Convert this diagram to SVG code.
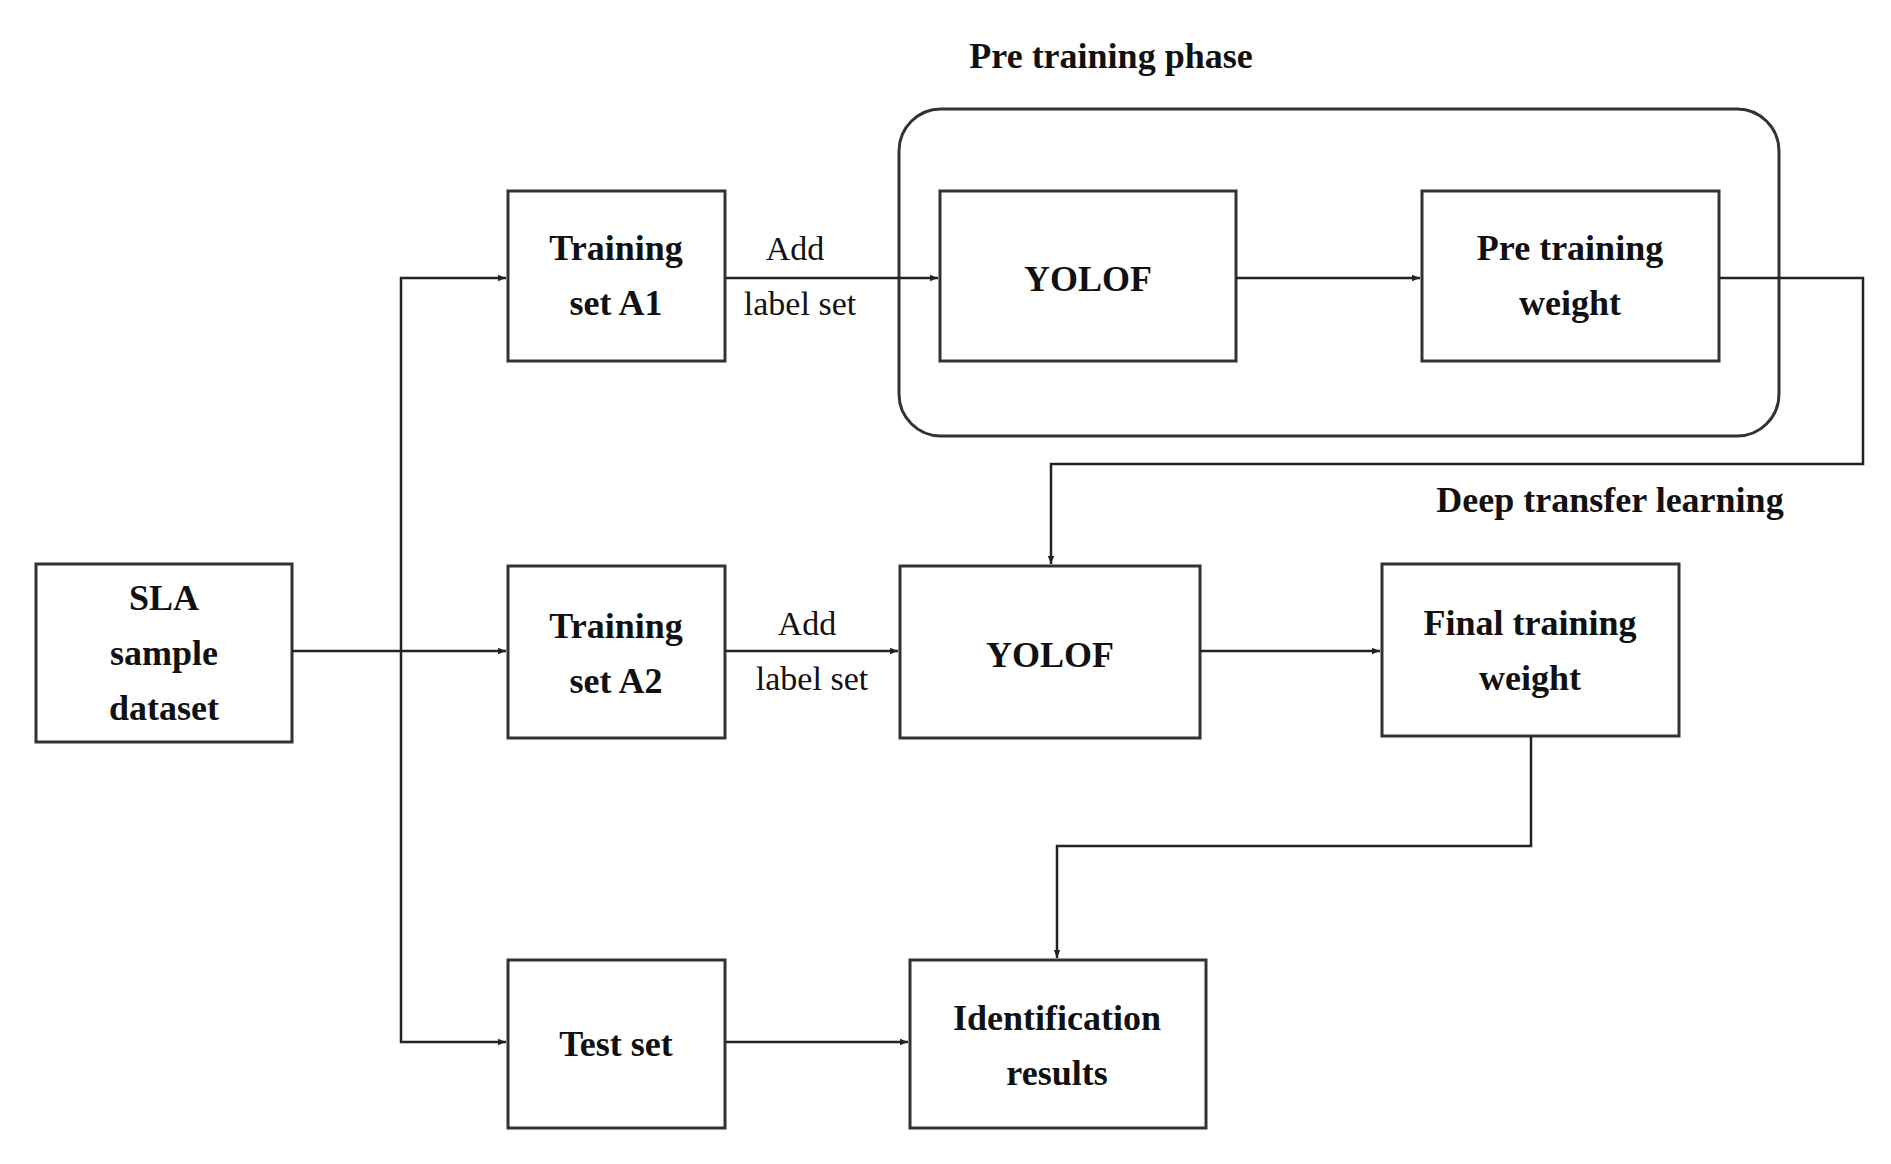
<svg xmlns="http://www.w3.org/2000/svg" width="1891" height="1164" viewBox="0 0 1891 1164">
<style>
.b{fill:#fff;stroke:#333;stroke-width:3}
.t{font-family:"Liberation Serif",serif;font-weight:bold;font-size:36px;fill:#111;text-anchor:middle}
.l{font-family:"Liberation Serif",serif;font-size:34px;fill:#111;text-anchor:middle}
.c{fill:none;stroke:#222;stroke-width:2.5}
</style>
<defs><marker id="a" viewBox="0 0 10 10" refX="10" refY="5" markerWidth="8" markerHeight="8" orient="auto" markerUnits="userSpaceOnUse"><path d="M0,1 L10,5 L0,9 z" fill="#222"/></marker></defs>
<rect id="phase" x="899" y="109" width="880" height="327" rx="42" fill="none" stroke="#333" stroke-width="3"/>
<text class="t" x="1111" y="68">Pre training phase</text>
<text class="t" x="1610" y="512">Deep transfer learning</text>
<g id="sla"><rect class="b" x="36" y="564" width="256" height="178"/><text class="t" x="164" y="610">SLA</text><text class="t" x="164" y="665">sample</text><text class="t" x="164" y="720">dataset</text></g>
<g id="a1"><rect class="b" x="508" y="191" width="217" height="170"/><text class="t" x="616" y="260">Training</text><text class="t" x="616" y="315">set A1</text></g>
<g id="a2"><rect class="b" x="508" y="566" width="217" height="172"/><text class="t" x="616" y="638">Training</text><text class="t" x="616" y="693">set A2</text></g>
<g id="test"><rect class="b" x="508" y="960" width="217" height="168"/><text class="t" x="616" y="1056">Test set</text></g>
<g id="yolof1"><rect class="b" x="940" y="191" width="296" height="170"/><text class="t" x="1088" y="291" font-size="42">YOLOF</text></g>
<g id="ptw"><rect class="b" x="1422" y="191" width="297" height="170"/><text class="t" x="1570" y="260">Pre training</text><text class="t" x="1570" y="315">weight</text></g>
<g id="yolof2"><rect class="b" x="900" y="566" width="300" height="172"/><text class="t" x="1050" y="667" font-size="42">YOLOF</text></g>
<g id="ftw"><rect class="b" x="1382" y="564" width="297" height="172"/><text class="t" x="1530" y="635">Final training</text><text class="t" x="1530" y="690">weight</text></g>
<g id="id"><rect class="b" x="910" y="960" width="296" height="168"/><text class="t" x="1057" y="1030">Identification</text><text class="t" x="1057" y="1085">results</text></g>
<g id="connectors">
<path class="c" d="M292,651 H506" marker-end="url(#a)"/>
<path class="c" d="M401,651 V278 H506" marker-end="url(#a)"/>
<path class="c" d="M401,651 V1042 H506" marker-end="url(#a)"/>
<path class="c" d="M725,278 H938" marker-end="url(#a)"/>
<path class="c" d="M1236,278 H1420" marker-end="url(#a)"/>
<path class="c" d="M1719,278 H1863 V464 H1051 V564" marker-end="url(#a)"/>
<path class="c" d="M725,651 H898" marker-end="url(#a)"/>
<path class="c" d="M1200,651 H1380" marker-end="url(#a)"/>
<path class="c" d="M1531,736 V846 H1057 V958" marker-end="url(#a)"/>
<path class="c" d="M725,1042 H908" marker-end="url(#a)"/>
</g>
<text class="l" x="795" y="260">Add</text><text class="l" x="800" y="315">label set</text>
<text class="l" x="807" y="635">Add</text><text class="l" x="812" y="690">label set</text>
</svg>
